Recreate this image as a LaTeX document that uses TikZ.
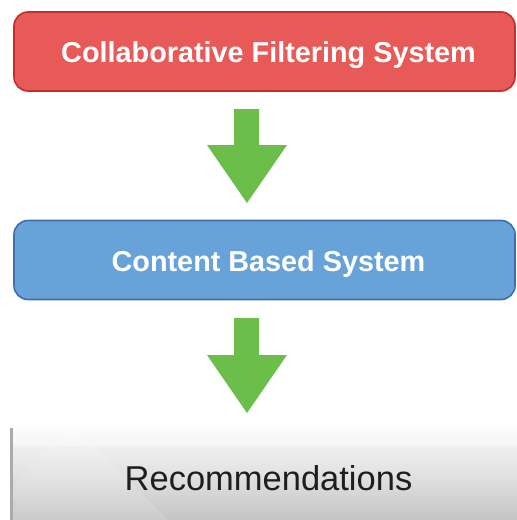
\documentclass[tikz,border=0pt]{standalone}
\usepackage{fontspec}
\setmainfont{Liberation Sans}
\definecolor{cfFill}{HTML}{E85A58}
\definecolor{cfEdge}{HTML}{C52E2C}
\definecolor{cbFill}{HTML}{67A2D8}
\definecolor{cbEdge}{HTML}{3B6FB2}
\definecolor{arrowGreen}{HTML}{6BBE4A}
\definecolor{recTop}{HTML}{F8F8F8}
\definecolor{recMid}{HTML}{E2E2E2}
\definecolor{recBot}{HTML}{C4C4C4}
\definecolor{recText}{HTML}{1E1E1E}
\tikzset{
  stagebox/.style={rounded corners=14pt, line width=1.6pt, inner sep=0pt,
    minimum width=501pt, minimum height=79pt},
  stagetext/.style={text=white, font=\fontsize{28.8}{32}\selectfont\bfseries,
    inner sep=0pt, anchor=base},
  flowarrow/.style={fill=arrowGreen}
}
\begin{document}
\begin{tikzpicture}[x=1pt,y=-1pt]
\useasboundingbox (0,0) rectangle (517,520);
\fill[white] (0,0) rectangle (517,520);

% first stage
\node[stagebox, draw=cfEdge, fill=cfFill] (cf) at (264.5,51.5) {};
\node[stagetext] (cft) at (268.5,62) {Collaborative Filtering System};

% second stage
\node[stagebox, draw=cbEdge, fill=cbFill] (cb) at (264.5,260) {};
\node[stagetext] (cbt) at (268.5,271) {Content Based System};

% down arrows between stages
\fill[flowarrow] (234,109) -- (259,109) -- (259,145) -- (287,145) -- (247,203)
  -- (207,145) -- (234,145) -- cycle;
\fill[flowarrow] (234,318) -- (259,318) -- (259,355) -- (287,355) -- (247,413)
  -- (207,355) -- (234,355) -- cycle;

% result panel with soft vertical gradient
\shade[top color=recTop, bottom color=recBot, middle color=recMid] (10,428) rectangle (517,520);
\fill[white, opacity=0.12] (12,487) -- (68,431) -- (96,447) -- (168,520) -- (12,520) -- cycle;
\shade[top color=white, bottom color=recTop, opacity=0.6] (12,428) rectangle (517,446);
\fill[black!33] (10,428) rectangle (12.5,520);
\node[text=recText, font=\fontsize{34.5}{40}\selectfont, inner sep=0pt, anchor=base] (rec) at (268.5,490) {Recommendations};
\end{tikzpicture}
\end{document}
